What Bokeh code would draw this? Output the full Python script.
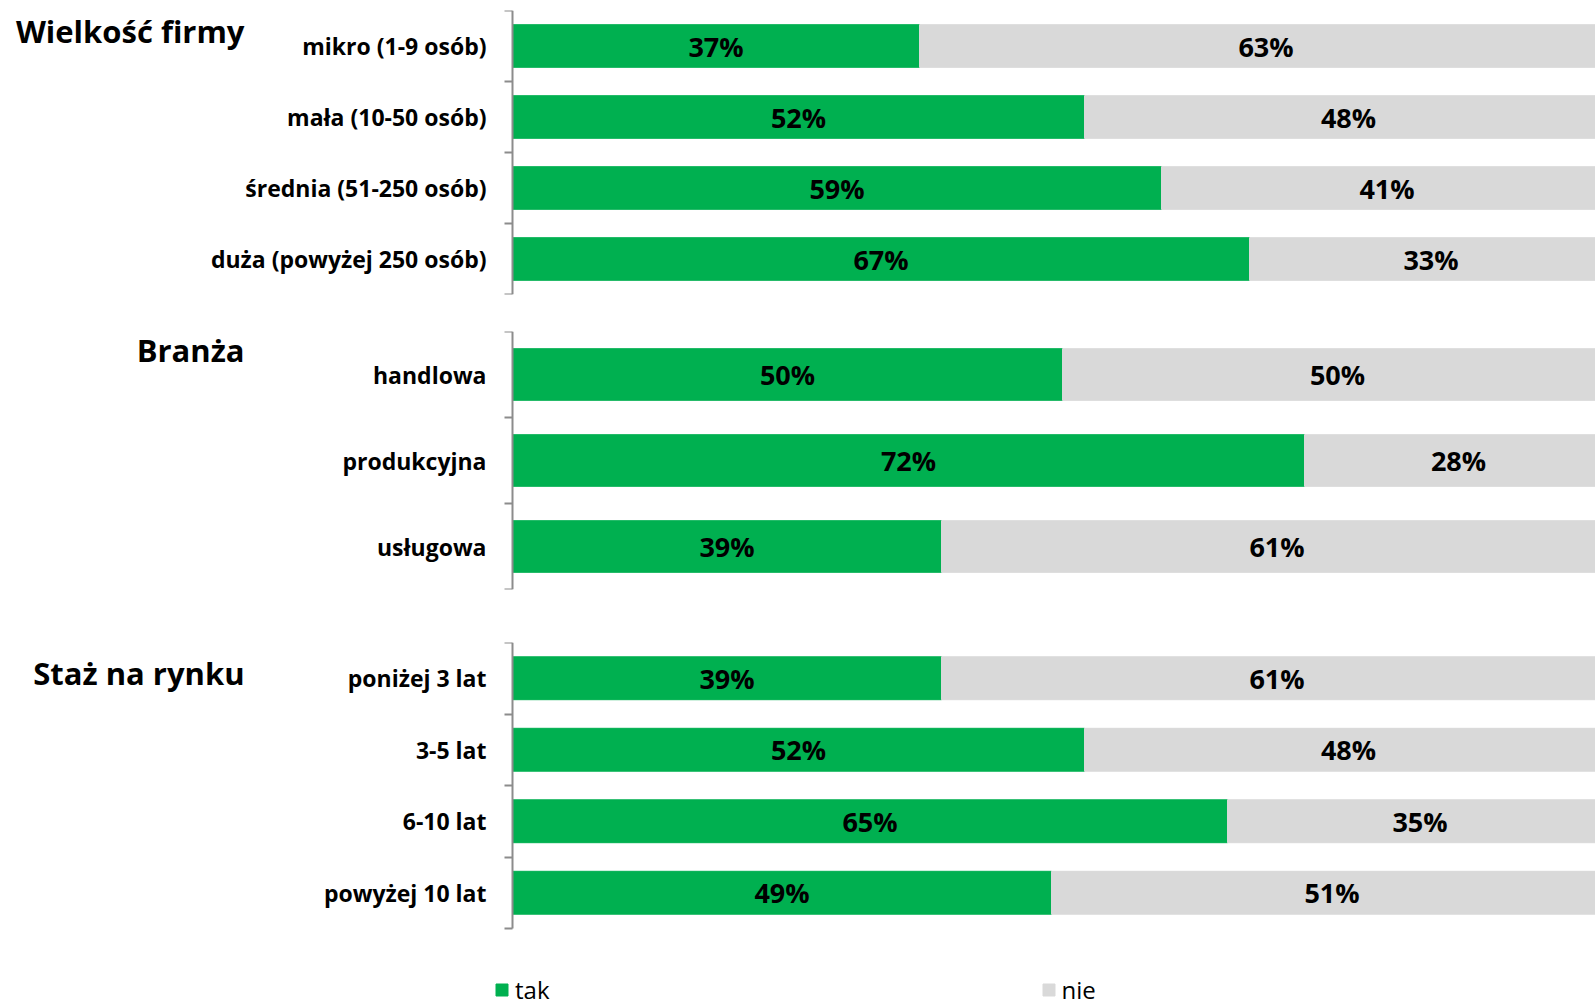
from bokeh.plotting import figure
from bokeh.layouts import column
from bokeh.models import Range1d, FixedTicker, Label, Legend, LegendItem, ColumnDataSource
from bokeh.core.properties import value
from bokeh.embed import file_html
from bokeh.resources import INLINE

# ---- data ----
group_titles = ["Wielkość firmy", "Branża", "Staż na rynku"]

cats_size = ["mikro (1-9 osób)", "mała (10-50 osób)", "średnia (51-250 osób)", "duża (powyżej 250 osób)"]
tak_size = [37, 52, 59, 67]
nie_size = [63, 48, 41, 33]

cats_branch = ["handlowa", "produkcyjna", "usługowa"]
tak_branch = [50, 72, 39]
nie_branch = [50, 28, 61]

cats_age = ["poniżej 3 lat", "3-5 lat", "6-10 lat", "powyżej 10 lat"]
tak_age = [39, 52, 65, 49]
nie_age = [61, 48, 35, 51]

series_names = ["tak", "nie"]

# ---- style ----
GREEN = "#00B050"
GRAY = "#D9D9D9"
AXIS = "#8C8C8C"
FONT = "Open Sans"
FONT_V = value(FONT)

W = 1595
PX_PER_PCT = 11.0          # horizontal scale: pixels per percentage point
AXIS_X = 512               # pixel position of the category axis
X_RANGE = Range1d(-AXIS_X / PX_PER_PCT, (W - AXIS_X) / PX_PER_PCT)


def make_group(title, cats, tak, nie, height, top, bottom, title_y, frame_scale=1.0):
    n = len(cats)
    ys = [i + 0.5 for i in range(n)]
    src = ColumnDataSource(dict(
        y=ys,
        tak=tak,
        nie_end=[a + b for a, b in zip(tak, nie)],
        tak_mid=[a / 2 for a in tak],
        nie_mid=[a + b / 2 for a, b in zip(tak, nie)],
        tak_lbl=[f"{a}%" for a in tak],
        nie_lbl=[f"{b}%" for b in nie],
    ))
    p = figure(width=W, height=height, output_backend="svg", toolbar_location=None,
               x_axis_location=None,
               x_range=Range1d(X_RANGE.start, X_RANGE.end),
               y_range=Range1d(n * frame_scale, 0),
               min_border_left=0, min_border_right=0,
               min_border_top=top, min_border_bottom=bottom)
    p.outline_line_color = None
    p.grid.visible = False
    r_tak = p.hbar(y="y", left=0, right="tak", height=0.6, color=GREEN, source=src)
    r_nie = p.hbar(y="y", left="tak", right="nie_end", height=0.6, color=GRAY, source=src)
    for xcol, tcol in (("tak_mid", "tak_lbl"), ("nie_mid", "nie_lbl")):
        p.text(x=xcol, y="y", text=tcol, source=src, text_align="center",
               text_baseline="middle", text_font=FONT_V, text_font_style="bold",
               text_font_size="27px", text_color="black")
    ax = p.yaxis[0]
    ax.fixed_location = 0
    ax.bounds = (0, n)
    ax.ticker = FixedTicker(ticks=ys, minor_ticks=list(range(n + 1)))
    ax.major_label_overrides = {y: c for y, c in zip(ys, cats)}
    ax.major_tick_line_color = None
    ax.major_tick_out = 0
    ax.major_tick_in = 0
    ax.minor_tick_line_color = AXIS
    ax.minor_tick_line_width = 2
    ax.minor_tick_out = 8
    ax.minor_tick_in = 0
    ax.axis_line_color = AXIS
    ax.axis_line_width = 2
    ax.major_label_standoff = 18
    ax.major_label_text_font = FONT
    ax.major_label_text_font_style = "bold"
    ax.major_label_text_font_size = "23px"
    ax.major_label_text_color = "black"
    p.add_layout(Label(x=244, y=title_y, x_units="screen", y_units="screen", text=title,
                       text_align="right", text_baseline="middle", text_font=FONT,
                       text_font_style="bold", text_font_size="31px", text_color="black"))
    return p, r_tak, r_nie


p1, _, _ = make_group(group_titles[0], cats_size, tak_size, nie_size, 302, 10, 8, 264)
p2, _, _ = make_group(group_titles[1], cats_branch, tak_branch, nie_branch, 313, 29, 26, 240)
# last block: frame extends below the bars to hold the legend
p3, rt, rn = make_group(group_titles[2], cats_age, tak_age, nie_age, 392, 27, 0, 335,
                        frame_scale=365 / 286)

legend = Legend(items=[LegendItem(label=series_names[0], renderers=[rt]),
                       LegendItem(label=series_names[1], renderers=[rn])],
                location=(494, 1), orientation="horizontal", spacing=491,
                glyph_width=15, glyph_height=15, label_standoff=6, padding=0, margin=0,
                label_height=24,
                label_text_font=FONT, label_text_font_size="24px", label_text_color="black",
                border_line_color=None, background_fill_alpha=0)
p3.add_layout(legend, "center")

layout = column(p1, p2, p3, spacing=0)
open("out.html", "w").write(file_html(layout, INLINE))
